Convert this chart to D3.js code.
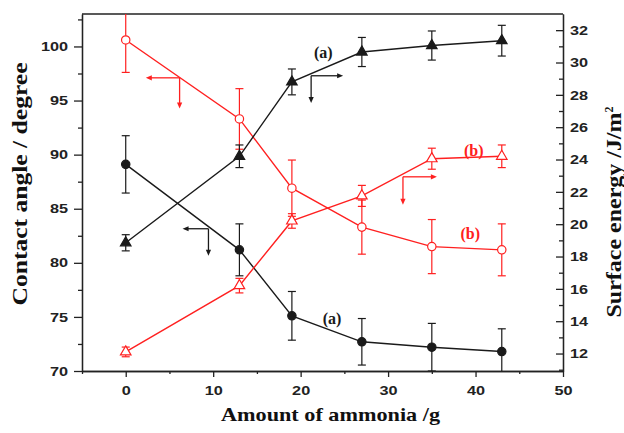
<!DOCTYPE html>
<html>
<head>
<meta charset="utf-8">
<style>
  body { margin: 0; background: #fff; }
  svg { display: block; }
  .tick text { font-family: "Liberation Sans", Arial, sans-serif; font-weight: bold; font-size: 13px; fill: #222; }
  .axis path, .axis line { stroke: #222; stroke-width: 1.3; }
  .title { font-family: "Liberation Serif", "Times New Roman", serif; font-weight: bold; fill: #111; }
</style>
</head>
<body>
<div id="chart"></div>
<script src="https://d3js.org/d3.v7.min.js"></script>
<script>
  // data
  var ammonia = [0, 13, 19, 27, 35, 43];

  // contact angle (left axis)
  var angleA = [89.1, 81.2, 75.1, 72.7, 72.2, 71.8];
  var angleAErr = [2.65, 2.4, 2.25, 2.15, 2.2, 2.1];
  var angleB = [100.6, 93.3, 86.9, 83.3, 81.5, 81.2];
  var angleBErr = [3.0, 2.8, 2.6, 2.5, 2.5, 2.4];

  // surface energy (right axis)
  var energyA = [18.85, 24.2, 28.8, 30.65, 31.05, 31.35];
  var energyAErr = [0.5, 0.7, 0.8, 0.9, 0.9, 0.95];
  var energyB = [12.1, 16.2, 20.2, 21.75, 24.05, 24.2];
  var energyBErr = [0.3, 0.45, 0.45, 0.65, 0.65, 0.7];

  var xTicks = [0, 10, 20, 30, 40, 50];
  var leftTicks = [70, 75, 80, 85, 90, 95, 100];
  var rightTicks = [12, 14, 16, 18, 20, 22, 24, 26, 28, 30, 32];

  var margin = { top: 14, left: 82, right: 61, bottom: 62 },
    width = 624 - margin.left - margin.right,
    height = 433 - margin.top - margin.bottom;

  var RED = "#ff2020", BLACK = "#1a1a1a";

  var svg = d3.select("#chart").append("svg")
    .attr("width", 624).attr("height", 433)
    .append("g")
    .attr("transform", "translate(" + margin.left + "," + margin.top + ")");

  var x = d3.scaleLinear().domain([-5, 50]).range([0, width]);
  var yL = d3.scaleLinear().domain([70, 103]).range([height, 0]);
  var yR = d3.scaleLinear().domain([10.92, 33]).range([height, 0]);

  svg.append("clipPath").attr("id", "clip")
    .append("rect").attr("width", width).attr("height", height);

  // stretch the labels a bit, the picture is wider than tall
  var sx = 1.25;
  function stretch(g) {
    g.selectAll(".tick text").each(function() {
      var t = d3.select(this);
      var xv = +t.attr("x") || 0;
      t.attr("x", xv / sx).attr("transform", "scale(" + sx + ",1)");
    });
  }

  // minor ticks
  var minorX = d3.range(-5, 51, 10);
  var minorL = d3.range(72.5, 103, 5);
  var minorR = d3.range(11, 34, 2).filter(function(d) { return d < 33; });

  var gx = svg.append("g").attr("class", "axis")
    .attr("transform", "translate(0," + height + ")")
    .call(d3.axisBottom(x).tickValues(xTicks).tickSize(6).tickPadding(9).tickSizeOuter(0));
  stretch(gx);
  svg.append("g").attr("class", "axis")
    .attr("transform", "translate(0," + height + ")")
    .call(d3.axisBottom(x).tickValues(minorX).tickSize(3).tickFormat("").tickSizeOuter(0));

  var gl = svg.append("g").attr("class", "axis")
    .call(d3.axisLeft(yL).tickValues(leftTicks).tickSize(8).tickPadding(6).tickSizeOuter(0));
  stretch(gl);
  svg.append("g").attr("class", "axis")
    .call(d3.axisLeft(yL).tickValues(minorL).tickSize(4).tickFormat("").tickSizeOuter(0));

  var gr = svg.append("g").attr("class", "axis")
    .attr("transform", "translate(" + width + ",0)")
    .call(d3.axisRight(yR).tickValues(rightTicks).tickSize(-7).tickPadding(7).tickSizeOuter(0));
  stretch(gr);
  svg.append("g").attr("class", "axis")
    .attr("transform", "translate(" + width + ",0)")
    .call(d3.axisRight(yR).tickValues(minorR).tickSize(-4).tickFormat("").tickSizeOuter(0));

  svg.append("line").attr("x1", 0).attr("x2", width).attr("y1", 0).attr("y2", 0)
    .attr("stroke", "#222").attr("stroke-width", 1.3);

  // series
  function series(vals, errs, yscale, color, shape, filled) {
    var pts = ammonia.map(function(d, i) { return { x: d, y: vals[i], e: errs[i] }; });
    var g = svg.append("g").attr("clip-path", "url(#clip)");
    g.append("path").datum(pts)
      .attr("fill", "none").attr("stroke", color).attr("stroke-width", 1.4)
      .attr("d", d3.line().x(function(d) { return x(d.x); }).y(function(d) { return yscale(d.y); }));

    var eb = g.selectAll(".eb").data(pts).enter().append("g")
      .attr("stroke", color).attr("stroke-width", 1.2);
    eb.append("line")
      .attr("x1", function(d) { return x(d.x); }).attr("x2", function(d) { return x(d.x); })
      .attr("y1", function(d) { return yscale(d.y + d.e); }).attr("y2", function(d) { return yscale(d.y - d.e); });
    [1, -1].forEach(function(s) {
      eb.append("line")
        .attr("x1", function(d) { return x(d.x) - 4; }).attr("x2", function(d) { return x(d.x) + 4; })
        .attr("y1", function(d) { return yscale(d.y + s * d.e); }).attr("y2", function(d) { return yscale(d.y + s * d.e); });
    });

    var sym = d3.symbol().type(shape).size(shape === d3.symbolCircle ? 55 : 48);
    g.selectAll(".pt").data(pts).enter().append("path")
      .attr("d", sym)
      .attr("transform", function(d) { return "translate(" + x(d.x) + "," + yscale(d.y) + ")"; })
      .attr("fill", filled ? color : "#fff")
      .attr("stroke", color).attr("stroke-width", 1.2);
  }

  series(angleA, angleAErr, yL, BLACK, d3.symbolCircle, true);
  series(angleB, angleBErr, yL, RED, d3.symbolCircle, false);
  series(energyA, energyAErr, yR, BLACK, d3.symbolTriangle, true);
  series(energyB, energyBErr, yR, RED, d3.symbolTriangle, false);

  // axis pointer arrows: junction, horizontal end, vertical end (data units)
  var arrows = [
    { x: 6.16, y: 97.1, hx: 2.3, vy: 94.26, s: yL, c: RED },
    { x: 9.46, y: 83.15, hx: 6.5, vy: 80.65, s: yL, c: BLACK },
    { x: 21.2, y: 29.18, hx: 24.86, vy: 27.5, s: yR, c: BLACK },
    { x: 31.7, y: 22.93, hx: 35.58, vy: 21.2, s: yR, c: RED }
  ];

  function head(px, py, dx, dy, c) {
    var L = 6, W = 2.6;
    var bx = px - dx * L, by = py - dy * L;
    svg.append("path")
      .attr("d", "M" + px + "," + py + "L" + (bx - dy * W) + "," + (by + dx * W) +
        "L" + (bx + dy * W) + "," + (by - dx * W) + "Z")
      .attr("fill", c);
  }

  arrows.forEach(function(a) {
    var jx = x(a.x), jy = a.s(a.y), hx = x(a.hx), vy = a.s(a.vy);
    var dx = hx > jx ? 1 : -1;
    svg.append("line").attr("x1", jx).attr("y1", jy).attr("x2", hx - dx * 5).attr("y2", jy)
      .attr("stroke", a.c).attr("stroke-width", 1.3);
    svg.append("line").attr("x1", jx).attr("y1", jy).attr("x2", jx).attr("y2", vy - 5)
      .attr("stroke", a.c).attr("stroke-width", 1.3);
    head(hx, jy, dx, 0, a.c);
    head(jx, vy, 0, 1, a.c);
  });

  // curve labels
  var notes = [
    { t: "(a)", x: 22.6, y: 30.65, s: yR, c: BLACK },
    { t: "(b)", x: 39.8, y: 24.55, s: yR, c: RED },
    { t: "(b)", x: 39.4, y: 82.75, s: yL, c: RED },
    { t: "(a)", x: 23.6, y: 74.9, s: yL, c: BLACK }
  ];
  svg.selectAll(".note").data(notes).enter().append("text")
    .attr("class", "title")
    .attr("x", function(d) { return x(d.x); })
    .attr("y", function(d) { return d.s(d.y); })
    .attr("dy", "0.35em")
    .attr("text-anchor", "middle")
    .style("font-size", "16px")
    .style("fill", function(d) { return d.c; })
    .text(function(d) { return d.t; });

  // axis titles
  svg.append("text").attr("class", "title")
    .attr("x", width / 2 + 8).attr("y", height + 50)
    .attr("text-anchor", "middle")
    .style("font-size", "19px")
    .attr("textLength", 219).attr("lengthAdjust", "spacingAndGlyphs")
    .text("Amount of ammonia /g");

  svg.append("text").attr("class", "title")
    .attr("transform", "translate(" + (-55) + "," + (184 - margin.top) + ") rotate(-90)")
    .attr("text-anchor", "middle")
    .style("font-size", "21px")
    .attr("textLength", 243).attr("lengthAdjust", "spacingAndGlyphs")
    .text("Contact angle / degree");

  var rt = svg.append("text").attr("class", "title")
    .attr("transform", "translate(" + (width + 58) + "," + (212 - margin.top) + ") rotate(-90)")
    .attr("text-anchor", "middle")
    .style("font-size", "20px");
  rt.append("tspan").attr("textLength", 205).attr("lengthAdjust", "spacingAndGlyphs")
    .text("Surface energy /J/m");
  rt.append("tspan").attr("dy", "-0.7em").style("font-size", "12px").text("2");
</script>
</body>
</html>
